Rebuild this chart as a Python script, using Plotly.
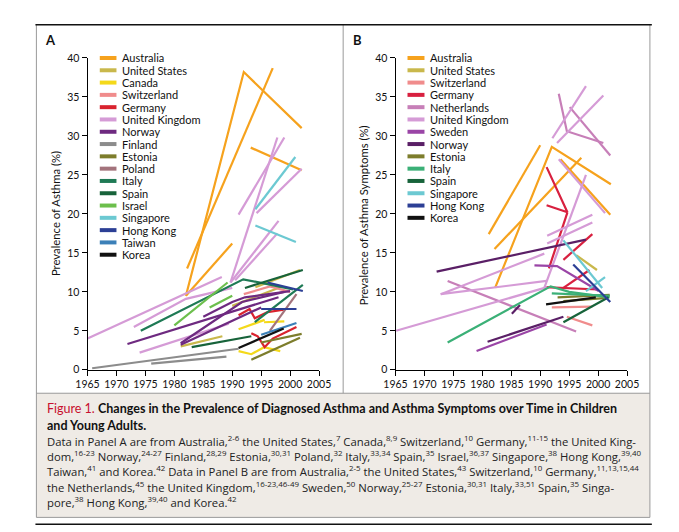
import plotly.graph_objects as go

W, H = 679, 532

# ---------------- DATA (years, values) segments per country ----------------
# Panel A: Prevalence of Asthma (%)
A_AUSTRALIA = [([1982, 1992, 2002], [9.5, 38.2, 31.0]),
               ([1982.2, 1997], [13.0, 38.7]),
               ([1982, 1990], [9.5, 16.2]),
               ([1993.2, 2002], [28.5, 25.6])]
A_US = [([1981.1, 1988.3], [3.0, 4.3]),
        ([1990, 1998.3], [8.2, 10.6]),
        ([1994, 2001.7], [10.6, 12.8])]
A_CANADA = [([1991.1, 1995.6], [5.2, 6.4]),
            ([1991.1, 1993.3, 1995.5, 1998.3], [2.4, 2.0, 2.9, 2.4]),
            ([1995.5, 1999], [6.1, 6.2])]
A_SWITZERLAND = [([1992, 1996.5, 2000], [9.7, 10.7, 10.0])]
A_GERMANY = [([1991.1, 1993, 1993.9, 1996.1, 1998.9], [7.0, 7.8, 6.6, 7.4, 7.7]),
             ([1993.3, 1994.4, 1995.6, 1997, 2001.1], [4.7, 4.3, 2.9, 4.0, 5.5])]
A_UK = [([1965, 1988.2], [4.0, 11.9]),
        ([1973, 1982, 1990], [5.5, 9.1, 10.5]),
        ([1974, 1989.4], [2.2, 5.9]),
        ([1989.7, 1997.8], [11.2, 29.8]),
        ([1991.1, 1999], [19.9, 29.8]),
        ([1994.2, 2002], [20.1, 25.8]),
        ([1989.7, 1998], [11.2, 19.1]),
        ([1990.5, 1997.8], [11.5, 17.5])]
A_NORWAY = [([1971.9, 1998], [3.3, 9.3]),
            ([1981.1, 1991.7, 1999], [3.4, 8.7, 10.0]),
            ([1985, 1990, 1992.2, 2000], [6.8, 8.7, 9.3, 10.1]),
            ([1981.1, 1995], [3.2, 8.0])]
A_FINLAND = [([1965.8, 1991.1], [0.2, 2.7]),
             ([1976, 1989], [0.8, 1.7])]
A_ESTONIA = [([1993.3, 2001.7], [1.3, 4.1]),
             ([1995, 2002], [3.5, 4.6])]
A_POLAND = [([1996.5, 2001.1], [5.0, 9.7])]
A_ITALY = [([1974.2, 1991.9, 1996.7, 2000.5], [5.0, 11.6, 10.9, 10.3]),
           ([1993.9, 2002.2], [6.1, 10.9])]
A_SPAIN = [([1992.2, 2002.2], [10.5, 12.8]),
           ([1983, 1993.3], [2.9, 4.3])]
A_ISRAEL = [([1980, 1989.2], [5.7, 11.2]),
            ([1986.1, 1990], [8.0, 9.5])]
A_SINGAPORE = [([1994, 2000.9], [20.6, 27.3]),
               ([1994, 2001], [18.5, 16.4])]
A_HONGKONG = [([1995, 2001.1], [7.8, 7.8]),
              ([1996.1, 2002.2], [11.2, 10.1])]
A_TAIWAN = [([1995, 2001.1], [4.5, 6.0])]
A_KOREA = [([1991.1, 1998.9], [2.8, 5.3])]

A_NAMES = ["Australia", "United States", "Canada", "Switzerland", "Germany",
           "United Kingdom", "Norway", "Finland", "Estonia", "Poland", "Italy",
           "Spain", "Israel", "Singapore", "Hong Kong", "Taiwan", "Korea"]
A_DATA = [A_AUSTRALIA, A_US, A_CANADA, A_SWITZERLAND, A_GERMANY, A_UK, A_NORWAY,
          A_FINLAND, A_ESTONIA, A_POLAND, A_ITALY, A_SPAIN, A_ISRAEL,
          A_SINGAPORE, A_HONGKONG, A_TAIWAN, A_KOREA]

# Panel B: Prevalence of Asthma Symptoms (%)
B_AUSTRALIA = [([1981.1, 1990], [17.4, 28.8]),
               ([1982.2, 1992, 2002.2], [10.5, 28.6, 23.8]),
               ([1982.1, 1997.1], [15.5, 27.2]),
               ([1993.5, 2002.1], [27.0, 19.9])]
B_US = [([1996.2, 1999.8], [14.7, 12.8])]
B_SWITZERLAND = [([1994.6, 1999], [6.8, 5.7]),
                 ([1992, 1999], [8.0, 8.1])]
B_GERMANY = [([1991.1, 1994.7, 1991.1], [26.0, 20.2, 21.1]),
             ([1991.5, 1994.7], [13.0, 20.2]),
             ([1994, 1999], [14.1, 17.4]),
             ([1994, 1998.5], [10.5, 12.8]),
             ([1990.7, 2000], [10.6, 10.3])]
B_NETHERLANDS = [([1995.1, 2002.1], [33.7, 27.5]),
                 ([1993.2, 1994.6, 2000.9], [35.4, 30.6, 29.1]),
                 ([1974, 1996.2], [11.4, 4.9])]
B_UK = [([1992.1, 1997.9], [29.7, 36.4]),
        ([1992.9, 2000.9], [29.1, 35.2]),
        ([1993.2, 2001.2], [27.0, 20.1]),
        ([1990.7, 1997.9], [10.5, 25.0]),
        ([1991.2, 1999], [17.2, 19.9]),
        ([1991.2, 1999], [16.2, 18.9]),
        ([1965.1, 1991.2], [5.0, 10.6]),
        ([1972.8, 1991.1], [9.7, 11.4]),
        ([1972.8, 1990.7], [9.7, 14.9])]
B_SWEDEN = [([1989, 1992.9, 2000.1], [13.4, 13.3, 10.1]),
            ([1979, 1991.1], [2.4, 5.8])]
B_NORWAY = [([1972.1, 1997.9], [12.6, 16.7]),
            ([1980.9, 1994], [3.6, 6.8]),
            ([1985.1, 1986.5], [7.2, 8.3])]
B_ESTONIA = [([1993, 2002], [9.3, 9.6]),
             ([1994, 2001], [8.8, 9.2])]
B_ITALY = [([1974, 1991.8, 1995, 2002], [3.5, 10.7, 10.0, 9.3]),
           ([1992, 2002], [9.8, 9.5])]
B_SPAIN = [([1994, 2001.8], [6.1, 9.3])]
B_SINGAPORE = [([1994, 2000.7], [16.6, 10.5]),
               ([1997.9, 2001.2], [10.1, 11.9])]
B_HONGKONG = [([1995.7, 2002.1], [13.5, 8.7])]
B_KOREA = [([1991, 1999.6], [8.4, 9.3])]

B_NAMES = ["Australia", "United States", "Switzerland", "Germany", "Netherlands",
           "United Kingdom", "Sweden", "Norway", "Estonia", "Italy", "Spain",
           "Singapore", "Hong Kong", "Korea"]
B_DATA = [B_AUSTRALIA, B_US, B_SWITZERLAND, B_GERMANY, B_NETHERLANDS, B_UK,
          B_SWEDEN, B_NORWAY, B_ESTONIA, B_ITALY, B_SPAIN, B_SINGAPORE,
          B_HONGKONG, B_KOREA]

X_TICKS = [1965, 1970, 1975, 1980, 1985, 1990, 1995, 2000, 2005]
Y_TICKS = [0, 5, 10, 15, 20, 25, 30, 35, 40]

CAPTION_TITLE = ["<span style='color:#c8102e'>Figure 1.</span> <b>Changes in the Prevalence of Diagnosed Asthma and Asthma Symptoms over Time in Children</b>",
                 "<b>and Young Adults.</b>"]
CAPTION_BODY = [
    "Data in Panel A are from Australia,<sup>2-6</sup> the United States,<sup>7</sup> Canada,<sup>8,9</sup> Switzerland,<sup>10</sup> Germany,<sup>11-15</sup> the United King-",
    "dom,<sup>16-23</sup> Norway,<sup>24-27</sup> Finland,<sup>28,29</sup> Estonia,<sup>30,31</sup> Poland,<sup>32</sup> Italy,<sup>33,34</sup> Spain,<sup>35</sup> Israel,<sup>36,37</sup> Singapore,<sup>38</sup> Hong Kong,<sup>39,40</sup>",
    "Taiwan,<sup>41</sup> and Korea.<sup>42</sup> Data in Panel B are from Australia,<sup>2-5</sup> the United States,<sup>43</sup> Switzerland,<sup>10</sup> Germany,<sup>11,13,15,44</sup>",
    "the Netherlands,<sup>45</sup> the United Kingdom,<sup>16-23,46-49</sup> Sweden,<sup>50</sup> Norway,<sup>25-27</sup> Estonia,<sup>30,31</sup> Italy,<sup>33,51</sup> Spain,<sup>35</sup> Singa-",
    "pore,<sup>38</sup> Hong Kong,<sup>39,40</sup> and Korea.<sup>42</sup>",
]

# ---------------- STYLE ----------------
COLORS = {
    "Australia": "#f6a21d", "United States": "#c9b84c", "Canada": "#f4d91a",
    "Switzerland": "#f08c8c", "Germany": "#d9232e", "United Kingdom": "#d59bd6",
    "Norway": "#6e2a80", "Finland": "#8c8c8c", "Estonia": "#7d7d2c",
    "Poland": "#a3737c", "Italy": "#1f7a55", "Spain": "#17633a",
    "Israel": "#6cbf4c", "Singapore": "#6cc9d2", "Hong Kong": "#2c3f95",
    "Taiwan": "#3c80b8", "Korea": "#111111", "Netherlands": "#c77fb8",
    "Sweden": "#9a45a6",
}
B_COLORS = dict(COLORS)
B_COLORS.update({"Germany": "#d8203f", "Italy": "#3bb077", "Norway": "#5a1f66"})

FONT = "Lato"
CAP_FONT = "Open Sans"


def fx(px):
    return px / W


def fy(py):
    return 1 - py / H


fig = go.Figure()


def add_panel(names, data, colors, xa, ya):
    for name, segs in zip(names, data):
        xs, ys = [], []
        for yrs, vals in segs:
            xs += list(yrs) + [None]
            ys += list(vals) + [None]
        fig.add_trace(go.Scatter(x=xs, y=ys, mode="lines", name=name,
                                 line=dict(color=colors[name], width=2.2),
                                 xaxis=xa, yaxis=ya, showlegend=False,
                                 hoverinfo="skip"))


add_panel(A_NAMES, A_DATA, COLORS, "x", "y")
add_panel(B_NAMES, B_DATA, B_COLORS, "x2", "y2")

axis_common = dict(showgrid=False, zeroline=False, showline=True, linecolor="#000",
                   linewidth=1, ticks="outside", ticklen=5, tickwidth=1,
                   tickcolor="#000", tickfont=dict(family=FONT, size=10.5, color="#111"))

y0, y1 = fy(364), fy(45)
fig.update_layout(
    width=W, height=H, margin=dict(l=0, r=0, t=0, b=0),
    paper_bgcolor="white", plot_bgcolor="rgba(0,0,0,0)",
    xaxis=dict(domain=[fx(70), fx(310)], range=[1965, 2005], tickvals=X_TICKS,
               anchor="y", **axis_common),
    yaxis=dict(domain=[y0, y1], range=[0, 40], tickvals=Y_TICKS, anchor="x",
               **axis_common),
    xaxis2=dict(domain=[fx(389.3), fx(629.3)], range=[1965, 2005], tickvals=X_TICKS,
                anchor="y2", **axis_common),
    yaxis2=dict(domain=[y0, y1], range=[0, 40], tickvals=Y_TICKS, anchor="x2",
                **axis_common),
    showlegend=False,
)

shapes = []
annotations = []

# frame
shapes.append(dict(type="rect", xref="paper", yref="paper", x0=fx(17), x1=fx(653),
                   y0=fy(515), y1=fy(388), fillcolor="#efebe6", line=dict(width=0), layer="below"))
gray = dict(color="#9a9a9a", width=1)
for (xa, ya, xb, yb) in [(17, 11, 17, 515), (653, 11, 653, 515), (335, 11, 335, 388),
                         (17, 388, 653, 388), (17, 515, 653, 515)]:
    shapes.append(dict(type="line", xref="paper", yref="paper", x0=fx(xa), y0=fy(ya),
                       x1=fx(xb), y1=fy(yb), line=gray))
for yy in (11, 522):
    shapes.append(dict(type="line", xref="paper", yref="paper", x0=fx(16), y0=fy(yy),
                       x1=fx(655), y1=fy(yy), line=dict(color="#111", width=1.5)))

# manual legends
ROW0, ROWGAP = 45, 12.58


def add_legend(names, colors, sx0, sx1, tx):
    for i, name in enumerate(names):
        yy = ROW0 + ROWGAP * i
        shapes.append(dict(type="line", xref="paper", yref="paper", x0=fx(sx0), x1=fx(sx1),
                           y0=fy(yy), y1=fy(yy), line=dict(color=colors[name], width=4)))
        annotations.append(dict(xref="paper", yref="paper", x=fx(tx), y=fy(yy), text=name,
                                showarrow=False, xanchor="left", yanchor="middle",
                                font=dict(family=FONT, size=11, color="#111")))


add_legend(A_NAMES, COLORS, 82.7, 100, 103.5)
add_legend(B_NAMES, B_COLORS, 401.7, 419.3, 422.5)

# panel letters
for letter, px in (("A", 24), ("B", 343)):
    annotations.append(dict(xref="paper", yref="paper", x=fx(px), y=fy(26.5), text="<b>%s</b>" % letter,
                            showarrow=False, xanchor="left", yanchor="middle",
                            font=dict(family=FONT, size=13, color="#111")))

# axis titles
for txt, px, py in (("Prevalence of Asthma (%)", 37.5, 204.5),
                    ("Prevalence of Asthma Symptoms (%)", 355.5, 206)):
    annotations.append(dict(xref="paper", yref="paper", x=fx(px), y=fy(py), text=txt,
                            textangle=-90, showarrow=False, xanchor="center", yanchor="middle",
                            font=dict(family=FONT, size=11.3, color="#111")))

# caption
for txt, py in zip(CAPTION_TITLE, (404, 420.5)):
    annotations.append(dict(xref="paper", yref="paper", x=fx(26), y=fy(py), text=txt,
                            showarrow=False, xanchor="left", yanchor="middle",
                            font=dict(family=FONT, size=12.5, color="#111")))
for i, txt in enumerate(CAPTION_BODY):
    annotations.append(dict(xref="paper", yref="paper", x=fx(26), y=fy(437 + 15.5 * i), text=txt,
                            showarrow=False, xanchor="left", yanchor="middle",
                            font=dict(family=CAP_FONT, size=11.3, color="#222")))

fig.update_layout(shapes=shapes, annotations=annotations)
fig.write_html("out.html")
